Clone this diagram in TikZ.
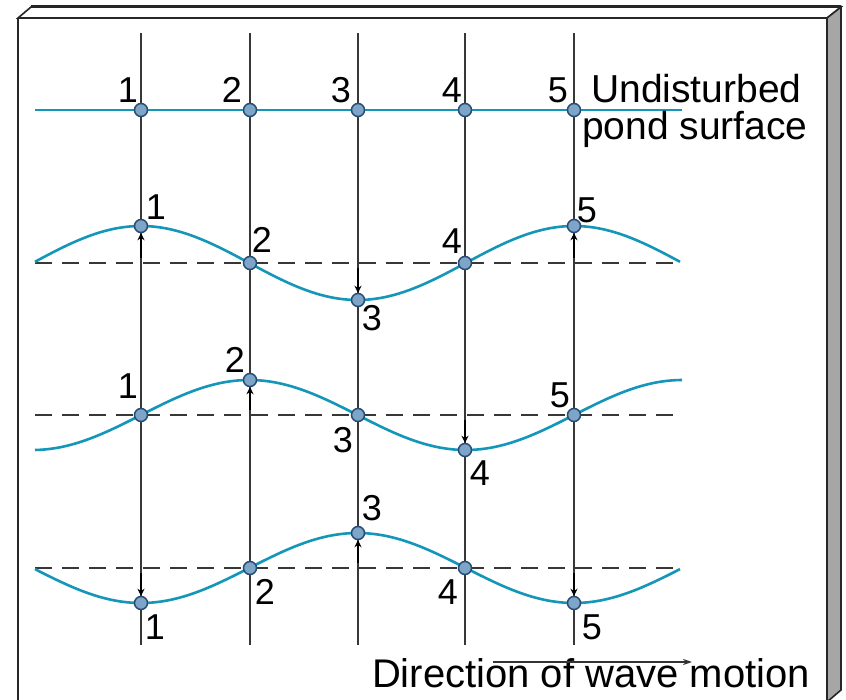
\documentclass[tikz,border=0pt]{standalone}
\usepackage{fontspec}
\setmainfont{Liberation Sans}
\usetikzlibrary{arrows.meta}
\definecolor{wavec}{RGB}{20,150,185}
\definecolor{dotf}{RGB}{125,165,200}
\definecolor{dotd}{RGB}{40,75,115}
\definecolor{linec}{RGB}{55,55,55}
\tikzset{
  wave/.style={draw=wavec, line width=2.6pt},
  vline/.style={draw=linec, line width=2pt},
  base/.style={draw=linec, line width=2pt, dash pattern=on 17pt off 10pt},
  dot/.style={circle, fill=dotf, draw=dotd, line width=1.5pt, minimum size=13pt, inner sep=0pt},
  lab/.style={font=\fontsize{36}{40}\selectfont, inner sep=0pt},
  txt/.style={font=\fontsize{39}{42}\selectfont, inner sep=0pt},
  disp/.style={draw=black, line width=2.4pt, -{Stealth[length=7pt,width=7pt]}},
  frame/.style={draw=black!85, line width=1.6pt}
}
\begin{document}
\begin{tikzpicture}[x=1pt,y=-1pt]
\useasboundingbox (0,0) rectangle (846,700);
% frame
\fill[white] (0,0) rectangle (846,700);
\draw[frame, fill=white] (18,18) -- (31,7) -- (841,7) -- (827,18) -- cycle;
\draw[frame, fill=black!35] (827,18) -- (841,7) -- (841,690) -- (827,702) -- cycle;
\draw[frame] (18,18) -- (18,702);
\draw[black!85, line width=3pt] (31,7) -- (841,7);
% vertical lines
\foreach \i/\x in {1/141,2/250,3/358,4/465,5/574}{
  \coordinate (t\i) at (\x,33);
  \coordinate (b\i) at (\x,645);
  \draw[vline] (t\i) -- (b\i);
}
% row 1
\coordinate (r1s) at (35,110);
\coordinate (r1e) at (682,110);
\draw[wave] (r1s) -- (r1e);
\foreach \i/\x in {1/141,2/250,3/358,4/465,5/574}{
  \node[dot] (a\i) at (\x,110) {};
}
\node[lab] (la1) at (128,90) {1};
\node[lab] (la2) at (232,90) {2};
\node[lab] (la3) at (341,90) {3};
\node[lab] (la4) at (452,90) {4};
\node[lab] (la5) at (558,90) {5};
\node[txt, anchor=base west, text depth=0pt] (und) at (591,103) {Undisturbed};
\node[txt, anchor=base west, text height=20pt] (pond) at (582,140) {pond surface};
% row 2
\coordinate (r2s) at (35,263);
\coordinate (r2e) at (682,263);
\draw[base] (r2s) -- (r2e);
\draw[wave] plot[domain=35:680, samples=120, smooth] (\x,{263-37*cos(0.83141*(\x-141))});
\foreach \i/\x/\y in {1/141/226,2/250/263,3/358/300,4/465/263,5/574/226}{
  \node[dot] (b2\i) at (\x,\y) {};
}
\coordinate (c21) at (141,258); \coordinate (c23) at (358,268); \coordinate (c25) at (574,258);
\draw[disp] (c21) -- (b21.south);
\draw[disp] (c23) -- (b23.north);
\draw[disp] (c25) -- (b25.south);
\node[lab] (lb1) at (156,207) {1};
\node[lab] (lb2) at (262,240) {2};
\node[lab] (lb3) at (372,318) {3};
\node[lab] (lb4) at (452,241) {4};
\node[lab] (lb5) at (587,210) {5};
% row 3
\coordinate (r3s) at (35,415);
\coordinate (r3e) at (682,415);
\draw[base] (r3s) -- (r3e);
\draw[wave] plot[domain=35:682, samples=120, smooth] (\x,{415-35*sin(0.83141*(\x-141))});
\foreach \i/\x/\y in {1/141/415,2/250/380,3/358/415,4/465/450,5/574/415}{
  \node[dot] (b3\i) at (\x,\y) {};
}
\coordinate (c32) at (250,410); \coordinate (c34) at (465,420);
\draw[disp] (c32) -- (b32.south);
\draw[disp] (c34) -- (b34.north);
\node[lab] (lc1) at (128,386) {1};
\node[lab] (lc2) at (235,360) {2};
\node[lab] (lc3) at (343,440) {3};
\node[lab] (lc4) at (480,473) {4};
\node[lab] (lc5) at (560,395) {5};
% row 4
\coordinate (r4s) at (35,568);
\coordinate (r4e) at (682,568);
\draw[base] (r4s) -- (r4e);
\draw[wave] plot[domain=35:680, samples=120, smooth] (\x,{568+35*cos(0.83141*(\x-141))});
\foreach \i/\x/\y in {1/141/603,2/250/568,3/358/533,4/465/568,5/574/603}{
  \node[dot] (b4\i) at (\x,\y) {};
}
\coordinate (c41) at (141,573); \coordinate (c43) at (358,563); \coordinate (c45) at (574,573);
\draw[disp] (c41) -- (b41.north);
\draw[disp] (c43) -- (b43.south);
\draw[disp] (c45) -- (b45.north);
\node[lab] (ld1) at (155,627) {1};
\node[lab] (ld2) at (265,592) {2};
\node[lab] (ld3) at (372,508) {3};
\node[lab] (ld4) at (448,592) {4};
\node[lab] (ld5) at (592,627) {5};
% direction
\node[txt, font=\fontsize{40}{42}\selectfont] (dir) at (591,673) {Direction of wave motion};
\coordinate (da) at (493,662);
\coordinate (db) at (692,662);
\draw[draw=black!80, line width=1.8pt, -{Stealth[length=9pt,width=6pt]}] (da) -- (db);
\end{tikzpicture}
\end{document}
